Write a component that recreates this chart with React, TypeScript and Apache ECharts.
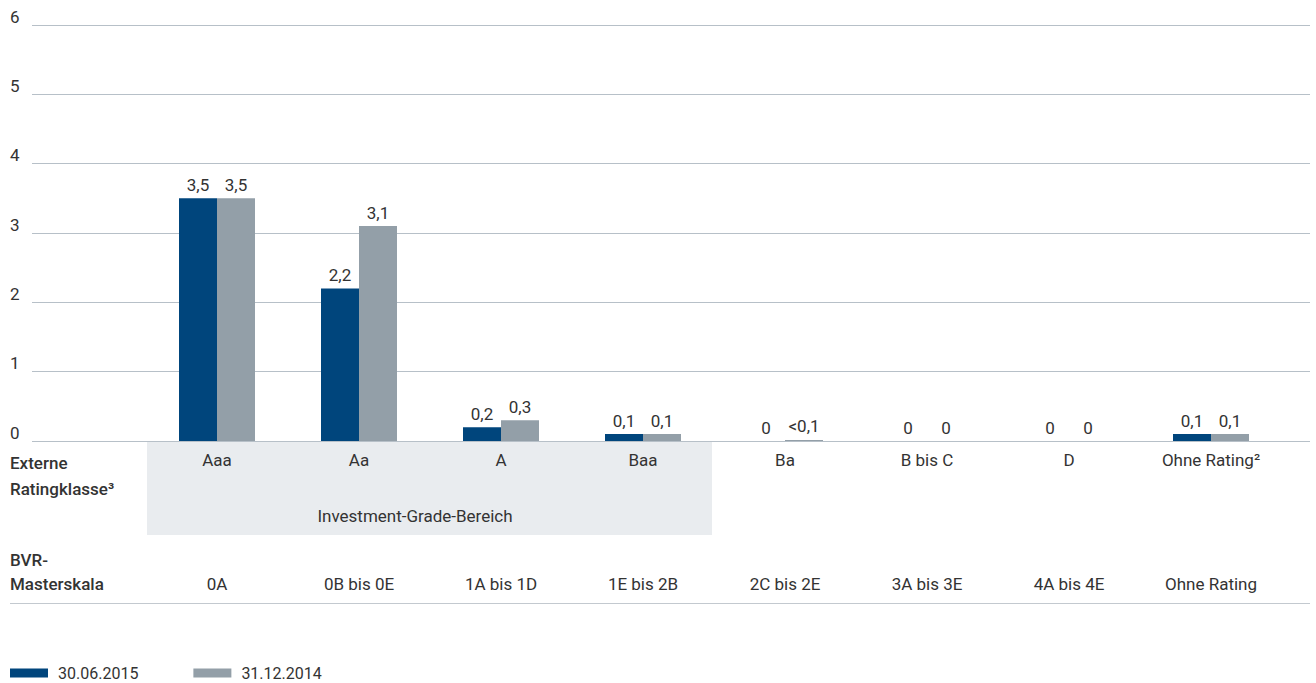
import React, { useEffect, useRef } from "react";
import * as echarts from "echarts";

const ratingClasses = ["Aaa", "Aa", "A", "Baa", "Ba", "B bis C", "D", "Ohne Rating²"];
const masterScale = ["0A", "0B bis 0E", "1A bis 1D", "1E bis 2B", "2C bis 2E", "3A bis 3E", "4A bis 4E", "Ohne Rating"];
const values2015 = [3.5, 2.2, 0.2, 0.1, 0, 0, 0, 0.1];
const values2014 = [3.5, 3.1, 0.3, 0.1, 0.015, 0, 0, 0.1];
const yTicks = [0, 1, 2, 3, 4, 5, 6];
const seriesNames = ["30.06.2015", "31.12.2014"];

const FONT = "Roboto, 'Liberation Sans', sans-serif";
const FS = 17;
const TXT = "#333333";
const DARK = "#00457c";
const GREY = "#939fa8";
const GRIDC = "#b7c0c8";

const fmt = (v: number) => {
  if (v === 0) return "0";
  if (v < 0.1) return "<0,1";
  return v.toFixed(1).replace(".", ",");
};

export default function App() {
  const ref = useRef<HTMLDivElement>(null);
  useEffect(() => {
    if (!ref.current) return;
    const chart = echarts.init(ref.current, null, { renderer: "svg" });
    const W = 1316;
    const bottom = 683 - 441;
    const barLabel = {
      show: true,
      position: "top",
      distance: 5,
      fontFamily: FONT,
      fontSize: FS,
      color: TXT,
      formatter: (p: any) => fmt(p.value),
    };
    chart.setOption({
      animation: false,
      textStyle: { fontFamily: FONT, color: TXT },
      grid: [
        { left: 32, right: 6, top: 25, bottom },
        { left: 146, right: W - 1282, top: 25, bottom },
      ],
      legend: {
        left: 10,
        top: 665,
        padding: 0,
        itemWidth: 38,
        itemHeight: 9,
        itemGap: 55,
        icon: "rect",
        textStyle: {
          fontFamily: FONT,
          fontSize: 16,
          lineHeight: 14,
          color: TXT,
          padding: [0, 0, 0, 5],
        },
        data: seriesNames,
      },
      xAxis: [
        { type: "value", gridIndex: 0, show: false, min: 0, max: 1 },
        {
          type: "category",
          gridIndex: 1,
          data: ratingClasses,
          axisLine: { show: false },
          axisTick: { show: false },
          axisLabel: { fontFamily: FONT, fontSize: FS, color: TXT, margin: 10 },
        },
        {
          type: "category",
          gridIndex: 1,
          position: "bottom",
          offset: 124,
          data: masterScale,
          axisLine: { show: false },
          axisTick: { show: false },
          axisLabel: { fontFamily: FONT, fontSize: FS, color: TXT, margin: 10 },
        },
      ],
      yAxis: [
        {
          type: "value",
          gridIndex: 0,
          min: yTicks[0],
          max: yTicks[yTicks.length - 1],
          interval: 1,
          axisLine: { show: false },
          axisTick: { show: false },
          splitLine: { show: true, lineStyle: { color: GRIDC, width: 1 } },
          axisLabel: {
            fontFamily: FONT,
            fontSize: FS,
            color: TXT,
            align: "left",
            verticalAlign: "bottom",
            margin: 22,
          },
        },
        {
          type: "value",
          gridIndex: 1,
          min: yTicks[0],
          max: yTicks[yTicks.length - 1],
          interval: 1,
          show: false,
          splitLine: { show: false },
        },
      ],
      graphic: [
        {
          type: "rect",
          z: -10,
          shape: { x: 147, y: 442, width: 565, height: 93 },
          style: { fill: "#e9ecef" },
        },
        {
          type: "text",
          x: 415,
          y: 516,
          style: {
            text: "Investment-Grade-Bereich",
            font: `${FS}px ${FONT}`,
            fill: TXT,
            align: "center",
            verticalAlign: "middle",
          },
        },
        {
          type: "text",
          x: 10,
          y: 450,
          style: {
            text: "Externe\nRatingklasse³",
            font: `500 ${FS}px ${FONT}`,
            fill: TXT,
            lineHeight: 26,
          },
        },
        {
          type: "text",
          x: 10,
          y: 548,
          style: {
            text: "BVR-\nMasterskala",
            font: `500 ${FS}px ${FONT}`,
            fill: TXT,
            lineHeight: 24,
          },
        },
        {
          type: "line",
          shape: { x1: 10, y1: 603.5, x2: 1310, y2: 603.5 },
          style: { stroke: "#c3c9cf", lineWidth: 1 },
        },
      ],
      series: [
        {
          name: seriesNames[0],
          type: "bar",
          xAxisIndex: 1,
          yAxisIndex: 1,
          data: values2015,
          barWidth: 38,
          barGap: "0%",
          itemStyle: { color: DARK },
          label: barLabel,
        },
        {
          name: seriesNames[1],
          type: "bar",
          xAxisIndex: 1,
          yAxisIndex: 1,
          data: values2014,
          barWidth: 38,
          barGap: "0%",
          itemStyle: { color: GREY },
          label: barLabel,
        },
      ],
    });
    return () => chart.dispose();
  }, []);
  return (
    <div
      ref={ref}
      style={{ position: "fixed", left: 0, top: 0, width: 1316, height: 683, background: "#fff" }}
    />
  );
}
